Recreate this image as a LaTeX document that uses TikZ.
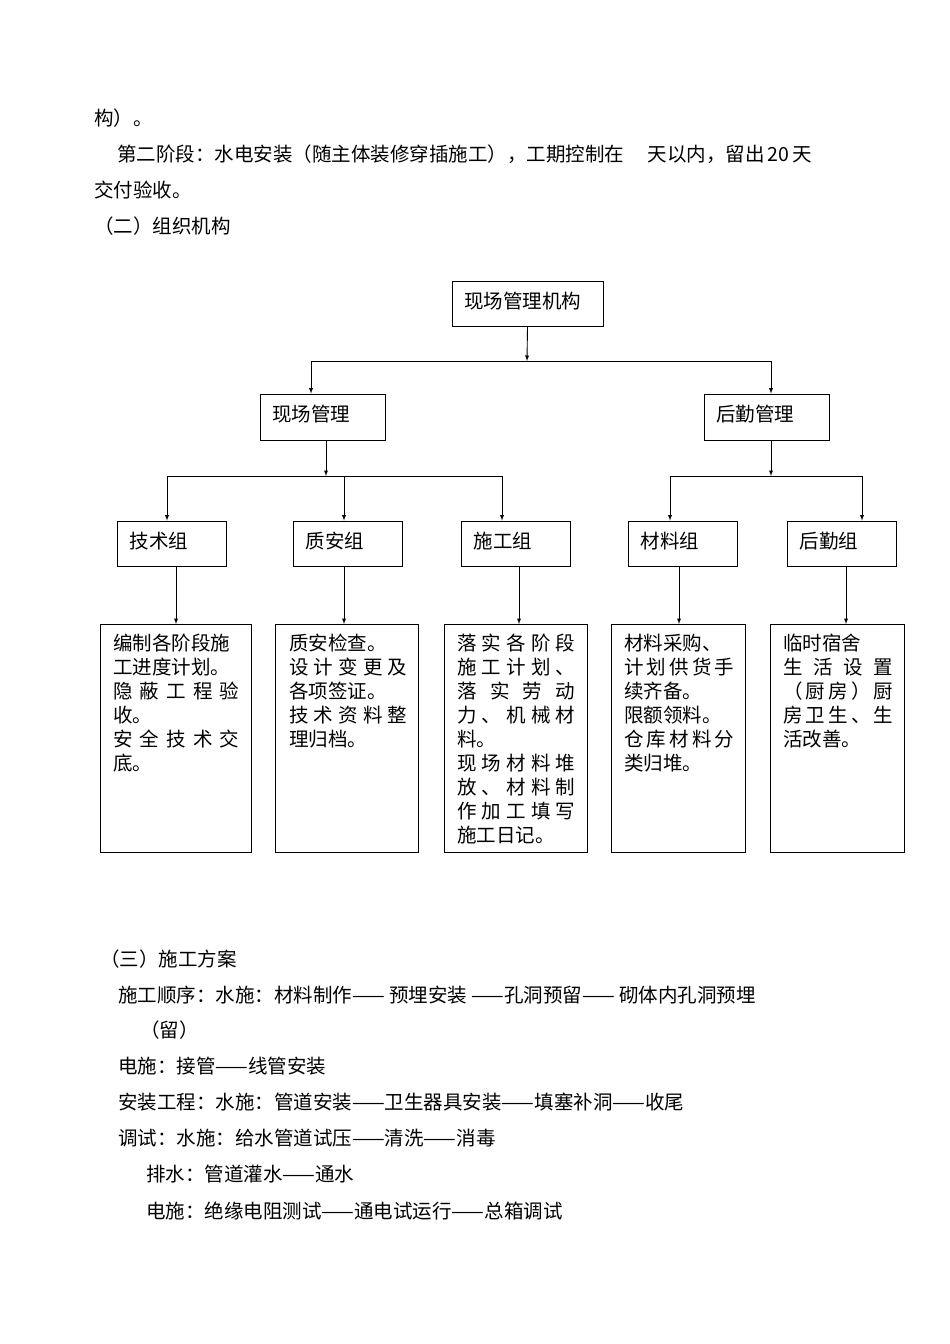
\documentclass[tikz,border=0pt]{standalone}
\usepackage{fontspec}
\setmainfont{Noto Sans CJK SC}
\begin{document}
\begin{tikzpicture}[x=1pt,y=-1pt,
 txt/.style={anchor=west,inner sep=0pt,font=\fontsize{19.5}{22}\selectfont},
 box/.style={draw,line width=0.9pt,inner sep=0pt},
 arr/.style={-latex,line width=0.9pt},
 ln/.style={line width=0.9pt}]
\newcommand{\J}[2]{\makebox[#1][s]{#2}}
\def\h{\hfill}
\useasboundingbox (0,0) rectangle (950,1344);
% top text
\node[txt] (t1) at (94,118) {构）。};
\node[txt] (t2) at (117,154) {第二阶段：水电安装（随主体装修穿插施工），工期控制在\hspace{1.2em}天以内，留出\,20\,天};
\node[txt] (t3) at (94,190) {交付验收。};
\node[txt] (t4) at (94,226) {（二）组织机构};
% boxes
\node[box,minimum width=151pt,minimum height=45pt] (root) at (527.5,303.5) {};
\node[txt] at (464,301) {现场管理机构};
\node[box,minimum width=125pt,minimum height=46pt] (xc) at (322.5,417) {};
\node[txt] at (272,414) {现场管理};
\node[box,minimum width=125pt,minimum height=46pt] (hq) at (766.5,417) {};
\node[txt] at (716,414) {后勤管理};
\foreach \n/\cx/\t in {js/171.5/技术组,za/347.5/质安组,sg/515.5/施工组,cl/682.5/材料组,hg/841.5/后勤组}{
 \node[box,minimum width=109pt,minimum height=45pt] (\n) at (\cx,543.5) {};
 \node[txt] at (\cx-42,541) {\t};
}
\foreach \n/\l/\r in {d1/100/251,d2/275/418,d3/444/587,d4/611/745,d5/770/904}{
 \node[box,minimum width=\r-\l,minimum height=228pt] (\n) at ({(\l+\r)/2},738) {};
}
% connectors
\coordinate (a0) at (527,361);
\coordinate (aL) at (311,361);
\coordinate (aR) at (771,361);
\draw[arr] (root.south) -- (a0);
\draw[ln] (aL) -- (aR);
\draw[arr] (aL) -- (aL|-xc.north);
\draw[arr] (aR) -- (aR|-hq.north);
\coordinate (b0) at (326,476);
\coordinate (bL) at (167,476);
\coordinate (bM) at (344,476);
\coordinate (bR) at (502,476);
\draw[arr] (xc.south-|b0) -- (b0);
\draw[ln] (bL) -- (bR);
\foreach \c/\n in {bL/js,bM/za,bR/sg} \draw[arr] (\c) -- (\c|-\n.north);
\coordinate (c0) at (771,476);
\coordinate (cL) at (670,476);
\coordinate (cR) at (862,476);
\draw[arr] (hq.south-|c0) -- (c0);
\draw[ln] (cL) -- (cR);
\draw[arr] (cL) -- (cL|-cl.north);
\draw[arr] (cR) -- (cR|-hg.north);
\foreach \n/\d/\x in {js/d1/176,za/d2/344,sg/d3/519,cl/d4/679,hg/d5/846}
 \draw[arr] (\x,566) -- (\x,624);
% detail text
\begin{scope}[every node/.style={txt}]
\node at (113,643) {编制各阶段施};
\node at (113,667) {工进度计划。};
\node at (113,691) {\J{126pt}{隐\h 蔽\h 工\h 程\h 验}};
\node at (113,715) {收。};
\node at (113,739) {\J{126pt}{安\h 全\h 技\h 术\h 交}};
\node at (113,763) {底。};
\node at (289,643) {质安检查。};
\node at (289,667) {\J{118pt}{设\h 计\h 变\h 更\h 及}};
\node at (289,691) {各项签证。};
\node at (289,715) {\J{118pt}{技\h 术\h 资\h 料\h 整}};
\node at (289,739) {理归档。};
\node at (457,643) {\J{118pt}{落\h 实\h 各\h 阶\h 段}};
\node at (457,667) {\J{118pt}{施\h 工\h 计\h 划\h 、}};
\node at (457,691) {\J{118pt}{落\h 实\h 劳\h 动}};
\node at (457,715) {\J{118pt}{力\h 、\h 机\h 械\h 材}};
\node at (457,739) {料。};
\node at (457,763) {\J{118pt}{现\h 场\h 材\h 料\h 堆}};
\node at (457,787) {\J{118pt}{放\h 、\h 材\h 料\h 制}};
\node at (457,811) {\J{118pt}{作\h 加\h 工\h 填\h 写}};
\node at (457,835) {施工日记。};
\node at (624,643) {材料采购、};
\node at (624,667) {\J{110pt}{计\h 划\h 供\h 货\h 手}};
\node at (624,691) {续齐备。};
\node at (624,715) {限额领料。};
\node at (624,739) {\J{110pt}{仓\h 库\h 材\h 料\h 分}};
\node at (624,763) {类归堆。};
\node at (783,643) {临时宿舍};
\node at (783,667) {\J{110pt}{生\h 活\h 设\h 置}};
\node at (783,691) {\J{110pt}{（\h 厨\h 房\h ）\h 厨}};
\node at (783,715) {\J{110pt}{房\h 卫\h 生\h 、\h 生}};
\node at (783,739) {活改善。};
% bottom text
\node at (100,959) {（三）施工方案};
\node at (118,995) {施工顺序：水施：材料制作—— 预埋安装 ——孔洞预留—— 砌体内孔洞预埋};
\node at (140,1030) {（留）};
\node at (118,1066) {电施：接管——线管安装};
\node at (118,1102) {安装工程：水施：管道安装——卫生器具安装——填塞补洞——收尾};
\node at (118,1138) {调试：水施：给水管道试压——清洗——消毒};
\node at (146,1174) {排水：管道灌水——通水};
\node at (146,1211) {电施：绝缘电阻测试——通电试运行——总箱调试};
\end{scope}
\end{tikzpicture}
\end{document}
